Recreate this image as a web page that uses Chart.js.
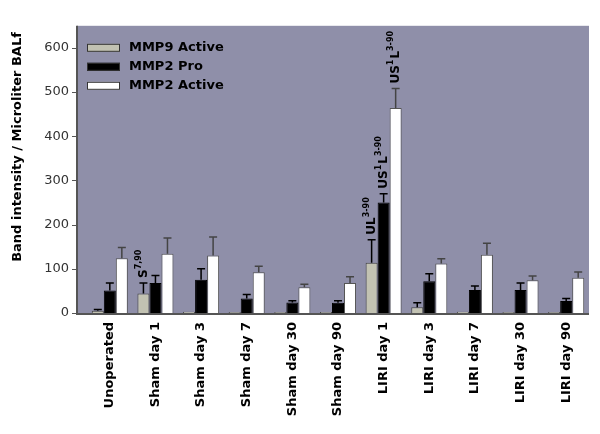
<!DOCTYPE html>
<html>
<head>
<meta charset="utf-8">
<script src="https://cdn.jsdelivr.net/npm/chart.js@4.4.0/dist/chart.umd.min.js"></script>
<style>
  body { margin: 0; background: #fff; }
  #grafico { display: block; }
</style>
</head>
<body>
<canvas id="grafico" width="600" height="434"></canvas>
<script>
// categorias y valores
var categorias = ['Unoperated', 'Sham day 1', 'Sham day 3', 'Sham day 7', 'Sham day 30', 'Sham day 90',
    'LIRI day 1', 'LIRI day 3', 'LIRI day 7', 'LIRI day 30', 'LIRI day 90'];

var mmp9Active = [5, 44, 3, 2, 2, 2, 114, 13, 3, 2, 2];
var mmp9ActiveErr = [3, 24, 0, 0, 0, 0, 52, 10, 0, 0, 0];

var mmp2Pro = [51, 68, 75, 33, 24, 23, 250, 72, 52, 52, 27];
var mmp2ProErr = [17, 17, 25, 9, 4, 5, 20, 17, 9, 16, 6];

var mmp2Active = [124, 134, 130, 92, 58, 68, 464, 112, 132, 74, 80];
var mmp2ActiveErr = [24, 36, 42, 14, 7, 14, 44, 11, 26, 10, 13];

var ticksY = [0, 100, 200, 300, 400, 500, 600];

// anotaciones: [serie, categoria, partes de texto]
var anotaciones = [
    [0, 1, [['S', 0], ['7,90', 1]]],
    [0, 6, [['UL', 0], ['3-90', 1]]],
    [1, 6, [['US', 0], ['1', 1], ['L', 0], ['3-90', 1]]],
    [2, 6, [['US', 0], ['1', 1], ['L', 0], ['3-90', 1]]]
];

var errores = [mmp9ActiveErr, mmp2ProErr, mmp2ActiveErr];
var fuente = 'DejaVu Sans';

const fondoPlugin = {
    id: 'fondo',
    beforeDraw: function (chart) {
        const ctx = chart.ctx;
        const a = chart.chartArea;
        ctx.save();
        ctx.fillStyle = '#8f8fa9';
        ctx.fillRect(a.left - 10, a.top, a.right - a.left + 10, a.bottom - a.top);
        ctx.restore();
    },
    afterDatasetsDraw: function (chart) {
        const ctx = chart.ctx;
        const a = chart.chartArea;
        const y = chart.scales.y;

        // barras de error
        chart.data.datasets.forEach(function (ds, i) {
            const meta = chart.getDatasetMeta(i);
            ctx.save();
            ctx.strokeStyle = i == 2 ? '#444' : '#000';
            ctx.lineWidth = 1.5;
            meta.data.forEach(function (bar, j) {
                const err = errores[i][j];
                if (!err) return;
                const top = y.getPixelForValue(ds.data[j] + err);
                ctx.beginPath();
                ctx.moveTo(bar.x, bar.y);
                ctx.lineTo(bar.x, top);
                ctx.moveTo(bar.x - 4, top);
                ctx.lineTo(bar.x + 4, top);
                ctx.stroke();
            });
            ctx.restore();
        });

        // ejes
        ctx.save();
        ctx.strokeStyle = '#555';
        ctx.lineWidth = 2;
        ctx.beginPath();
        ctx.moveTo(a.left - 10, a.top);
        ctx.lineTo(a.left - 10, a.bottom + 1);
        ctx.lineTo(a.right, a.bottom + 1);
        ctx.stroke();
        ctx.lineWidth = 1;
        ticksY.forEach(function (v) {
            const py = Math.round(y.getPixelForValue(v)) + 0.5;
            ctx.beginPath();
            ctx.moveTo(a.left - 15, py);
            ctx.lineTo(a.left - 10, py);
            ctx.stroke();
        });
        ctx.restore();

        // anotaciones
        anotaciones.forEach(function (an) {
            const bar = chart.getDatasetMeta(an[0]).data[an[1]];
            const val = chart.data.datasets[an[0]].data[an[1]] + errores[an[0]][an[1]];
            const py = y.getPixelForValue(val) - 5;
            ctx.save();
            ctx.translate(bar.x, py);
            ctx.rotate(-Math.PI / 2);
            ctx.fillStyle = '#000';
            ctx.textAlign = 'left';
            ctx.textBaseline = 'middle';
            let px = 0;
            an[2].forEach(function (p) {
                ctx.font = p[1] ? 'bold 8px ' + fuente : 'bold 12px ' + fuente;
                ctx.fillText(p[0], px, p[1] ? -5 : 0);
                px += ctx.measureText(p[0]).width + (p[1] ? 1 : 0);
            });
            ctx.restore();
        });

        // leyenda
        ctx.save();
        chart.data.datasets.forEach(function (ds, i) {
            const ly = a.top + 22 + i * 19;
            ctx.fillStyle = ds.backgroundColor;
            ctx.fillRect(a.left, ly - 4, 33, 8);
            ctx.strokeStyle = '#333';
            ctx.lineWidth = 1;
            ctx.strokeRect(a.left + 0.5, ly - 3.5, 32, 7);
            ctx.fillStyle = '#000';
            ctx.font = 'bold 13px ' + fuente;
            ctx.textBaseline = 'middle';
            ctx.fillText(ds.label, a.left + 42, ly);
        });
        ctx.restore();

        // titulo eje y
        ctx.save();
        ctx.translate(18, 147);
        ctx.rotate(-Math.PI / 2);
        ctx.font = 'bold 13px ' + fuente;
        ctx.fillStyle = '#000';
        ctx.textAlign = 'center';
        ctx.textBaseline = 'middle';
        ctx.fillText('Band intensity / Microliter BALf', 0, 0);
        ctx.restore();
    }
};

const ctx = document.getElementById('grafico').getContext('2d');
const grafico = new Chart(ctx, {
    type: 'bar',
    data: {
        labels: categorias,
        datasets: [{
            label: 'MMP9 Active',
            data: mmp9Active,
            backgroundColor: '#c2c2b2',
            borderColor: '#444',
            borderWidth: 1
        }, {
            label: 'MMP2 Pro',
            data: mmp2Pro,
            backgroundColor: '#000000',
            borderColor: '#000',
            borderWidth: 1
        }, {
            label: 'MMP2 Active',
            data: mmp2Active,
            backgroundColor: '#ffffff',
            borderColor: '#555',
            borderWidth: 1
        }]
    },
    options: {
        responsive: false,
        animation: false,
        datasets: {
            bar: {
                categoryPercentage: 0.79,
                barPercentage: 1.0
            }
        },
        layout: {
            padding: { top: 10, right: 11, left: 0, bottom: 0 }
        },
        plugins: {
            legend: { display: false },
            tooltip: { enabled: false }
        },
        scales: {
            x: {
                grid: { display: false, drawTicks: false },
                border: { display: false },
                ticks: {
                    autoSkip: false,
                    minRotation: 90,
                    maxRotation: 90,
                    padding: 9,
                    color: '#000',
                    font: { family: fuente, size: 13, weight: 'bold' }
                },
                afterFit: function (s) { s.height = 121; }
            },
            y: {
                min: 0,
                max: 650,
                grid: { display: false, drawTicks: false },
                border: { display: false },
                ticks: {
                    stepSize: 100,
                    padding: 18,
                    color: '#333',
                    font: { family: fuente, size: 13, weight: 'normal' }
                },
                afterBuildTicks: function (s) {
                    s.ticks = s.ticks.filter(function (t) { return ticksY.indexOf(t.value) >= 0; });
                },
                afterFit: function (s) { s.width = 87; }
            }
        }
    },
    plugins: [fondoPlugin]
});
</script>
</body>
</html>
